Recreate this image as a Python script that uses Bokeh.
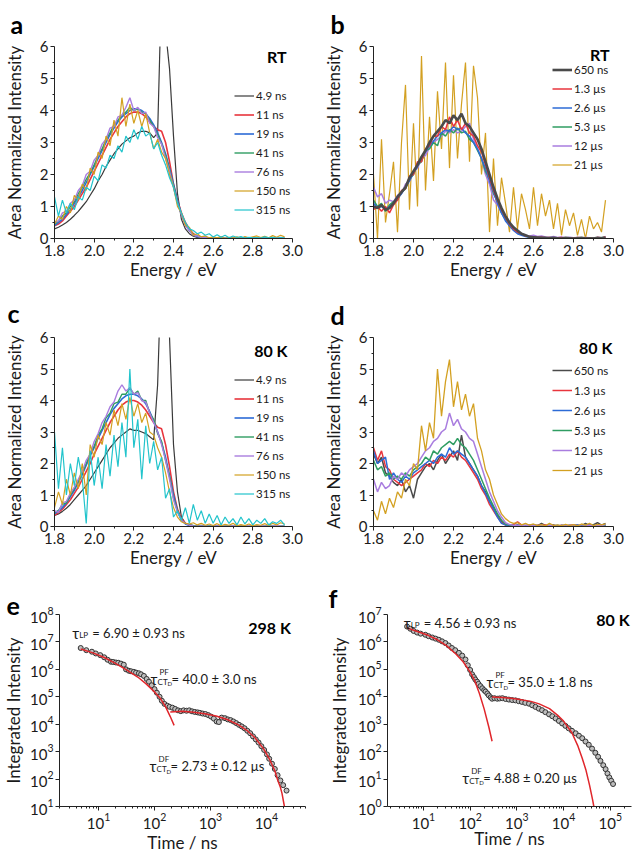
from bokeh.plotting import figure
from bokeh.models import (Range1d, FixedTicker, LogTicker, Legend, LegendItem, Label,
                          PrintfTickFormatter)
from bokeh.layouts import column, row
from bokeh.embed import file_html
from bokeh.resources import INLINE

FONT = "Lato"
TXT = "#1a1a1a"
AX = "#222222"

C_BLACK = "#3a3a3a"
C_GRAY = "#4a4a4a"
C_RED = "#e8353d"
C_BLUE = "#2c6bd6"
C_GREEN = "#2f9d62"
C_PURPLE = "#a97ddf"
C_GOLD = "#d3a021"
C_CYAN = "#22c4cc"
C_FIT = "#e0262b"

# ---------------- energy grid (eV) ----------------
ENERGY = [1.80, 1.82, 1.84, 1.86, 1.88, 1.90, 1.92, 1.94, 1.96, 1.98,
          2.00, 2.02, 2.04, 2.06, 2.08, 2.10, 2.12, 2.14, 2.16, 2.18,
          2.20, 2.22, 2.24, 2.26, 2.28, 2.30, 2.32, 2.34, 2.36, 2.38,
          2.40, 2.42, 2.44, 2.46, 2.48, 2.50, 2.52, 2.54, 2.56, 2.58,
          2.60, 2.62, 2.64, 2.66, 2.68, 2.70, 2.72, 2.74, 2.76, 2.78,
          2.80, 2.82, 2.84, 2.86, 2.88, 2.90, 2.92, 2.94, 2.96]

E_TICKS = [1.8, 2.0, 2.2, 2.4, 2.6, 2.8, 3.0]
E_MINOR = [1.9, 2.1, 2.3, 2.5, 2.7, 2.9]
Y_TICKS = [0, 1, 2, 3, 4, 5, 6]
Y_MINOR = [0.5, 1.5, 2.5, 3.5, 4.5, 5.5]

# ---------------- panel a (RT, ns) ----------------
A_NAMES = ["4.9 ns", "11 ns", "19 ns", "41 ns", "76 ns", "150 ns", "315 ns"]
A_4_9NS = [0.30, 0.35, 0.42, 0.50, 0.60, 0.72, 0.85, 1.00, 1.15, 1.35,
           1.55, 1.80, 2.00, 2.25, 2.45, 2.65, 2.80, 2.95, 3.05, 3.15,
           3.20, 3.30, 3.35, 3.35, 3.30, 3.15, 3.30, 8.00, 6.50, 5.30,
           3.20, 1.40, 0.60, 0.30, 0.15, 0.07, 0.03, 0.01, 0.00, 0.00,
           0.00, 0.00, 0.00, 0.00, 0.00, 0.00, 0.00, 0.00, 0.00, 0.00,
           0.00, 0.00, 0.00, 0.00, 0.00, 0.00, 0.00, 0.00, 0.00]
A_11NS = [0.40, 0.45, 0.55, 0.70, 0.85, 1.00, 1.20, 1.40, 1.60, 1.85,
          2.10, 2.35, 2.60, 2.85, 3.10, 3.30, 3.50, 3.65, 3.80, 3.90,
          3.95, 3.95, 3.90, 3.80, 3.65, 3.50, 3.40, 3.35, 3.00, 2.40,
          1.70, 1.20, 0.80, 0.50, 0.30, 0.15, 0.08, 0.04, 0.02, 0.01,
          0.00, 0.00, 0.00, 0.00, 0.00, 0.00, 0.00, 0.00, 0.00, 0.00,
          0.00, 0.00, 0.00, 0.00, 0.00, 0.00, 0.00, 0.00, 0.00]
A_19NS = [0.40, 0.50, 0.60, 0.75, 0.90, 1.10, 1.30, 1.50, 1.75, 2.00,
          2.25, 2.50, 2.75, 3.00, 3.25, 3.45, 3.65, 3.80, 3.90, 4.00,
          4.05, 4.05, 4.00, 3.90, 3.75, 3.55, 3.30, 3.00, 2.65, 2.20,
          1.70, 1.20, 0.75, 0.45, 0.25, 0.12, 0.06, 0.03, 0.01, 0.00,
          0.00, 0.00, 0.00, 0.00, 0.00, 0.00, 0.00, 0.00, 0.00, 0.00,
          0.00, 0.00, 0.00, 0.00, 0.00, 0.00, 0.00, 0.00, 0.00]
A_41NS = [0.45, 0.55, 0.70, 0.80, 1.00, 1.15, 1.40, 1.60, 1.85, 2.05,
          2.30, 2.60, 2.80, 3.10, 3.30, 3.55, 3.70, 3.85, 3.95, 4.10,
          4.00, 4.05, 3.95, 3.90, 3.70, 3.50, 3.25, 2.95, 2.60, 2.15,
          1.65, 1.15, 0.75, 0.45, 0.25, 0.12, 0.08, 0.04, 0.03, 0.02,
          0.02, 0.01, 0.02, 0.00, 0.01, 0.02, 0.00, 0.01, 0.00, 0.01,
          0.00, 0.01, 0.02, 0.00, 0.01, 0.00, 0.01, 0.02, 0.01]
A_76NS = [0.50, 0.55, 0.80, 0.85, 1.10, 1.20, 1.50, 1.65, 2.00, 2.10,
          2.45, 2.60, 2.95, 3.10, 3.45, 3.50, 3.80, 3.85, 4.10, 4.40,
          4.00, 4.10, 3.90, 3.95, 3.60, 3.50, 3.15, 2.95, 2.50, 2.10,
          1.60, 1.10, 0.75, 0.40, 0.25, 0.10, 0.08, 0.03, 0.04, 0.02,
          0.03, 0.01, 0.02, 0.00, 0.02, 0.01, 0.03, 0.00, 0.01, 0.02,
          0.00, 0.02, 0.01, 0.03, 0.00, 0.02, 0.01, 0.03, 0.02]
A_150NS = [0.45, 0.70, 0.60, 1.00, 0.80, 1.35, 1.20, 1.70, 1.50, 2.20,
           2.00, 2.70, 2.50, 3.20, 2.90, 3.70, 3.20, 4.40, 3.50, 4.20,
           3.60, 4.00, 3.50, 3.90, 3.30, 2.80, 3.10, 2.70, 2.50, 2.00,
           1.60, 1.00, 0.80, 0.40, 0.35, 0.10, 0.15, 0.05, 0.08, 0.02,
           0.05, 0.02, 0.06, 0.00, 0.04, 0.01, 0.05, 0.00, 0.06, 0.02,
           0.05, 0.08, 0.03, 0.07, 0.02, 0.09, 0.04, 0.10, 0.05]
A_315NS = [1.30, 0.70, 1.20, 0.80, 1.10, 0.90, 1.30, 1.20, 1.60, 1.50,
           1.95, 1.80, 2.30, 2.20, 2.60, 2.50, 2.90, 2.70, 3.20, 3.00,
           3.40, 3.10, 3.50, 3.20, 3.30, 2.80, 3.00, 2.60, 2.30, 1.90,
           1.60, 1.10, 0.80, 0.50, 0.30, 0.25, 0.15, 0.20, 0.10, 0.15,
           0.05, 0.12, 0.04, 0.10, 0.02, 0.08, 0.03, 0.06, 0.01, 0.04,
           0.02, 0.03, 0.01, 0.05, 0.02, 0.04, 0.01, 0.03, 0.02]

# ---------------- panel b (RT, long delays) ----------------
B_NAMES = ["650 ns", "1.3 µs", "2.6 µs", "5.3 µs", "12 µs", "21 µs"]
B_650NS = [1.00, 0.95, 1.05, 0.90, 0.95, 1.10, 1.30, 1.45, 1.60, 1.90,
           2.10, 2.30, 2.55, 2.75, 3.00, 3.20, 3.35, 3.50, 3.70, 3.60,
           3.85, 3.70, 3.90, 3.60, 3.50, 3.30, 3.10, 2.80, 2.40, 2.00,
           1.60, 1.25, 0.95, 0.70, 0.50, 0.35, 0.25, 0.15, 0.10, 0.05,
           0.04, 0.03, 0.02, 0.02, 0.01, 0.02, 0.01, 0.00, 0.02, 0.01,
           0.00, 0.01, 0.02, 0.00, 0.01, 0.00, 0.02, 0.01, 0.02]
B_1_3US = [0.90, 1.00, 0.85, 1.00, 0.80, 1.05, 1.20, 1.50, 1.55, 1.95,
           2.00, 2.40, 2.40, 2.80, 2.90, 3.20, 3.20, 3.50, 3.40, 3.80,
           3.50, 3.70, 3.40, 3.60, 3.30, 3.20, 2.90, 2.70, 2.30, 1.90,
           1.50, 1.20, 0.90, 0.65, 0.45, 0.30, 0.20, 0.15, 0.08, 0.06,
           0.05, 0.03, 0.04, 0.02, 0.03, 0.01, 0.02, 0.03, 0.01, 0.02,
           0.01, 0.03, 0.02, 0.01, 0.02, 0.00, 0.03, 0.02, 0.05]
B_2_6US = [1.10, 0.95, 1.00, 0.90, 1.00, 1.10, 1.25, 1.40, 1.60, 1.80,
           2.05, 2.25, 2.50, 2.70, 2.90, 3.05, 3.20, 3.30, 3.40, 3.35,
           3.50, 3.40, 3.45, 3.30, 3.20, 3.00, 2.80, 2.50, 2.20, 1.80,
           1.45, 1.10, 0.80, 0.55, 0.40, 0.25, 0.15, 0.10, 0.06, 0.04,
           0.03, 0.02, 0.03, 0.01, 0.02, 0.01, 0.02, 0.00, 0.01, 0.02,
           0.01, 0.00, 0.02, 0.01, 0.00, 0.01, 0.02, 0.01, 0.03]
B_5_3US = [1.20, 1.00, 1.10, 0.85, 1.05, 1.15, 1.20, 1.45, 1.55, 1.85,
           2.00, 2.30, 2.40, 2.75, 2.80, 3.00, 2.90, 3.30, 3.20, 3.40,
           3.30, 3.45, 3.30, 3.35, 3.10, 3.00, 2.75, 2.50, 2.10, 1.85,
           1.40, 1.15, 0.80, 0.60, 0.40, 0.30, 0.18, 0.12, 0.08, 0.05,
           0.04, 0.02, 0.03, 0.01, 0.03, 0.02, 0.01, 0.02, 0.00, 0.02,
           0.01, 0.03, 0.00, 0.02, 0.01, 0.02, 0.00, 0.03, 0.04]
B_12US = [1.60, 1.30, 1.40, 1.10, 1.20, 1.15, 1.35, 1.40, 1.70, 1.80,
          2.10, 2.20, 2.50, 2.60, 2.85, 3.00, 3.10, 3.20, 3.35, 3.30,
          3.40, 3.30, 3.35, 3.50, 3.60, 3.10, 2.80, 2.50, 2.00, 1.70,
          1.20, 1.05, 0.80, 0.60, 0.45, 0.30, 0.20, 0.15, 0.10, 0.08,
          0.10, 0.06, 0.08, 0.05, 0.04, 0.06, 0.03, 0.05, 0.02, 0.04,
          0.02, 0.03, 0.01, 0.03, 0.02, 0.01, 0.03, 0.02, 0.06]
B_21US = [2.00, 0.00, 3.10, 0.50, 1.40, 2.40, 0.20, 3.00, 4.80, 0.90,
          3.60, 1.00, 5.70, 1.50, 3.80, 1.80, 4.60, 2.80, 5.50, 2.20,
          5.10, 2.50, 4.20, 5.50, 2.40, 5.40, 4.40, 2.00, 3.30, 0.20,
          2.50, 0.40, 1.90, 1.10, 0.20, 1.60, 0.30, 1.40, 0.90, 0.30,
          1.60, 0.40, 1.40, 0.70, 1.20, 0.30, 1.10, 0.10, 0.90, 0.40,
          0.80, 0.10, 0.60, 0.00, 0.70, 0.30, 0.50, 0.20, 1.20]

# ---------------- panel c (80 K, ns) ----------------
C_4_9NS = [0.35, 0.40, 0.48, 0.58, 0.70, 0.85, 1.00, 1.15, 1.30, 1.50,
           1.70, 1.90, 2.10, 2.30, 2.50, 2.65, 2.80, 2.90, 3.00, 3.10,
           3.05, 3.05, 3.00, 2.95, 2.85, 2.75, 4.50, 8.50, 8.50, 6.00,
           2.60, 1.10, 0.30, 0.10, 0.05, 0.02, 0.01, 0.00, 0.00, 0.00,
           0.00, 0.00, 0.00, 0.00, 0.00, 0.00, 0.00, 0.00, 0.00, 0.00,
           0.00, 0.00, 0.00, 0.00, 0.00, 0.00, 0.00, 0.00, 0.00]
C_11NS = [0.35, 0.45, 0.55, 0.70, 0.85, 1.05, 1.25, 1.50, 1.75, 2.00,
          2.30, 2.55, 2.80, 3.05, 3.30, 3.50, 3.70, 3.85, 3.95, 4.00,
          4.00, 3.95, 3.85, 3.70, 3.50, 3.30, 3.15, 3.10, 2.60, 1.90,
          1.10, 0.55, 0.25, 0.10, 0.05, 0.02, 0.00, 0.00, 0.00, 0.00,
          0.00, 0.00, 0.00, 0.00, 0.00, 0.00, 0.00, 0.00, 0.00, 0.00,
          0.00, 0.00, 0.00, 0.00, 0.00, 0.00, 0.00, 0.00, 0.00]
C_19NS = [0.40, 0.50, 0.60, 0.75, 0.95, 1.15, 1.40, 1.65, 1.95, 2.25,
          2.50, 2.80, 3.05, 3.30, 3.55, 3.75, 3.90, 4.05, 4.15, 4.20,
          4.20, 4.15, 4.05, 3.90, 3.65, 3.35, 3.00, 2.65, 2.20, 1.60,
          1.00, 0.50, 0.20, 0.08, 0.03, 0.01, 0.00, 0.00, 0.00, 0.00,
          0.00, 0.00, 0.00, 0.00, 0.00, 0.00, 0.00, 0.00, 0.00, 0.00,
          0.00, 0.00, 0.00, 0.00, 0.00, 0.00, 0.00, 0.00, 0.00]
C_41NS = [0.45, 0.50, 0.70, 0.75, 1.00, 1.20, 1.45, 1.70, 2.00, 2.30,
          2.55, 2.90, 3.10, 3.45, 3.60, 3.90, 3.95, 4.20, 4.20, 4.40,
          4.20, 4.30, 4.00, 4.00, 3.60, 3.40, 2.95, 2.70, 2.10, 1.60,
          0.90, 0.50, 0.20, 0.10, 0.05, 0.03, 0.02, 0.03, 0.01, 0.02,
          0.01, 0.02, 0.00, 0.01, 0.02, 0.01, 0.00, 0.02, 0.01, 0.00,
          0.01, 0.02, 0.00, 0.01, 0.02, 0.01, 0.00, 0.01, 0.02]
C_76NS = [0.50, 0.45, 0.75, 0.80, 1.05, 1.25, 1.50, 1.75, 2.10, 2.30,
          2.70, 2.95, 3.30, 3.50, 3.80, 3.95, 4.30, 4.50, 4.30, 4.40,
          4.20, 4.25, 4.00, 3.95, 3.60, 3.30, 3.00, 2.60, 2.10, 1.50,
          0.85, 0.45, 0.20, 0.10, 0.04, 0.02, 0.01, 0.02, 0.01, 0.00,
          0.01, 0.02, 0.01, 0.00, 0.01, 0.02, 0.00, 0.01, 0.02, 0.01,
          0.00, 0.01, 0.02, 0.01, 0.00, 0.01, 0.02, 0.01, 0.00]
C_150NS = [0.60, 1.10, 0.70, 1.50, 1.00, 1.70, 1.20, 2.00, 1.00, 2.60,
           2.20, 2.90, 2.60, 3.30, 2.90, 3.70, 3.20, 3.90, 3.40, 4.10,
           3.50, 3.90, 3.30, 3.60, 3.00, 2.90, 2.50, 2.20, 1.70, 1.10,
           0.60, 0.30, 0.15, 0.10, 0.08, 0.12, 0.05, 0.10, 0.04, 0.08,
           0.03, 0.09, 0.02, 0.07, 0.04, 0.10, 0.02, 0.06, 0.03, 0.08,
           0.02, 0.06, 0.04, 0.09, 0.03, 0.10, 0.05, 0.12, 0.08]
C_315NS = [3.00, 1.20, 2.50, 1.00, 2.00, 1.30, 2.20, 1.50, 0.10, 2.40,
           1.30, 2.20, 1.20, 2.60, 1.60, 2.90, 1.90, 3.30, 2.20, 5.00,
           2.50, 3.40, 1.50, 3.20, 2.00, 2.70, 1.80, 2.20, 0.90, 1.20,
           0.30, 0.50, 0.20, 0.60, 0.10, 0.70, 0.20, 0.50, 0.10, 0.40,
           0.10, 0.35, 0.05, 0.30, 0.10, 0.25, 0.05, 0.30, 0.08, 0.25,
           0.05, 0.20, 0.10, 0.25, 0.05, 0.15, 0.10, 0.20, 0.05]

# ---------------- panel d (80 K, long delays) ----------------
D_650NS = [2.30, 2.00, 2.20, 1.70, 1.60, 1.40, 1.30, 1.50, 1.10, 1.30,
           0.90, 1.50, 1.70, 1.90, 2.00, 1.80, 2.10, 2.30, 2.00, 2.20,
           2.40, 2.10, 2.90, 2.20, 2.00, 1.80, 1.60, 1.30, 1.10, 0.80,
           0.60, 0.35, 0.15, 0.05, 0.03, 0.02, 0.05, 0.03, 0.02, 0.04,
           0.05, 0.02, 0.10, 0.03, 0.02, 0.05, 0.01, 0.03, 0.02, 0.04,
           0.03, 0.05, 0.02, 0.10, 0.03, 0.06, 0.12, 0.04, 0.10]
D_1_3US = [2.50, 2.10, 2.40, 1.90, 1.80, 1.50, 1.40, 1.30, 1.40, 1.50,
           1.60, 1.70, 1.80, 2.00, 1.90, 2.10, 2.00, 2.20, 2.10, 2.30,
           2.20, 2.40, 2.20, 2.10, 1.90, 1.70, 1.50, 1.20, 1.00, 0.70,
           0.50, 0.30, 0.12, 0.05, 0.04, 0.06, 0.15, 0.05, 0.03, 0.05,
           0.02, 0.04, 0.03, 0.05, 0.02, 0.03, 0.01, 0.04, 0.02, 0.03,
           0.05, 0.02, 0.04, 0.03, 0.06, 0.02, 0.05, 0.03, 0.04]
D_2_6US = [2.40, 2.00, 2.10, 2.20, 1.50, 1.70, 1.50, 1.40, 1.60, 1.50,
           1.70, 1.80, 1.90, 2.00, 2.10, 2.00, 2.20, 2.30, 2.20, 2.50,
           2.30, 2.40, 2.30, 2.20, 2.00, 1.80, 1.60, 1.30, 1.05, 0.80,
           0.55, 0.30, 0.10, 0.05, 0.03, 0.02, 0.04, 0.02, 0.03, 0.02,
           0.03, 0.02, 0.04, 0.01, 0.03, 0.02, 0.04, 0.02, 0.03, 0.01,
           0.02, 0.04, 0.02, 0.03, 0.05, 0.02, 0.04, 0.03, 0.05]
D_5_3US = [2.10, 1.80, 1.90, 1.60, 1.70, 1.50, 1.60, 1.50, 1.70, 1.60,
           1.80, 1.90, 2.00, 2.20, 2.10, 2.40, 2.30, 2.50, 2.60, 2.70,
           2.60, 2.80, 2.60, 2.50, 2.30, 2.10, 1.80, 1.50, 1.20, 0.90,
           0.65, 0.40, 0.20, 0.08, 0.05, 0.03, 0.02, 0.04, 0.02, 0.03,
           0.02, 0.03, 0.01, 0.02, 0.04, 0.02, 0.01, 0.03, 0.02, 0.01,
           0.03, 0.02, 0.01, 0.04, 0.02, 0.03, 0.01, 0.02, 0.04]
D_12US = [1.50, 1.10, 1.40, 1.20, 1.30, 1.60, 1.50, 1.70, 1.60, 1.80,
          1.90, 2.00, 2.20, 2.40, 2.50, 2.70, 2.80, 3.00, 3.10, 3.60,
          3.20, 3.40, 3.10, 3.00, 2.80, 2.70, 2.30, 1.90, 1.50, 1.10,
          0.80, 0.50, 0.30, 0.12, 0.06, 0.04, 0.03, 0.05, 0.02, 0.04,
          0.03, 0.02, 0.04, 0.01, 0.03, 0.02, 0.01, 0.03, 0.02, 0.04,
          0.02, 0.03, 0.01, 0.02, 0.04, 0.02, 0.05, 0.03, 0.06]
D_21US = [0.50, 0.20, 0.80, 0.40, 0.90, 0.60, 1.10, 0.90, 1.50, 1.30,
          2.00, 1.80, 3.20, 2.40, 3.30, 2.80, 5.00, 3.50, 4.60, 5.30,
          3.80, 4.60, 3.70, 4.20, 3.50, 3.90, 2.80, 2.40, 1.80, 1.50,
          1.00, 0.70, 0.40, 0.25, 0.15, 0.10, 0.12, 0.05, 0.10, 0.04,
          0.08, 0.03, 0.06, 0.02, 0.10, 0.03, 0.05, 0.02, 0.07, 0.03,
          0.06, 0.02, 0.08, 0.04, 0.10, 0.03, 0.07, 0.05, 0.08]

# ---------------- panel e (298 K decay) ----------------
E_T = [4.79, 6.03, 7.59, 8.91, 10.7, 12.6, 14.5, 16.6, 18.2, 20.4,
       22.4, 25.1, 28.2, 30.9, 34.7, 38.0, 42.7, 46.8, 52.5, 57.5,
       64.6, 72.4, 79.4, 89.1, 100, 110, 123, 135, 151, 170,
       186, 209, 234, 263, 295, 331, 372, 417, 468, 525,
       589, 646, 724, 813, 912, 1023, 1148, 1288, 1413, 1585,
       1820, 2042, 2291, 2570, 2884, 3236, 3631, 4074, 4571, 5129,
       5754, 6457, 7244, 8128, 9120, 10230, 11220, 12590, 14130, 15850,
       17780, 19950, 22910]
E_I = [6.0e6, 5.0e6, 4.4e6, 3.8e6, 3.3e6, 2.75e6, 2.24e6, 1.9e6, 1.86e6, 1.78e6,
       1.74e6, 1.62e6, 1.48e6, 1.0e6, 8.9e5, 8.5e5, 8.1e5, 7.6e5, 7.2e5, 6.6e5,
       5.75e5, 4.47e5, 3.55e5, 2.63e5, 1.9e5, 1.41e5, 1.0e5, 7.2e4, 5.5e4, 4.7e4,
       4.3e4, 4.0e4, 3.6e4, 3.2e4, 3.0e4, 3.2e4, 3.1e4, 3.2e4, 2.95e4, 2.8e4,
       2.7e4, 2.6e4, 2.45e4, 2.35e4, 2.15e4, 1.9e4, 1.6e4, 1.26e4, 1.2e4, 1.74e4,
       1.66e4, 1.5e4, 1.41e4, 1.26e4, 1.1e4, 9.5e3, 8.3e3, 7.1e3, 5.75e3, 4.7e3,
       3.6e3, 2.8e3, 2.15e3, 1.58e3, 1.15e3, 794, 550, 363, 234, 138,
       89, 60, 38]
E_FIT1_T = [4.79, 7.94, 12.6, 20.0, 31.6, 50.1, 70.8, 100, 126, 158, 191, 224]
E_FIT1_I = [5.5e6, 4.0e6, 2.7e6, 1.66e6, 9.5e5, 5.25e5, 2.95e5, 1.51e5, 8.9e4, 4.3e4, 1.9e4, 9.1e3]
E_FIT2_T = [191, 316, 501, 794, 1259, 1995, 3162, 4467, 6310, 8913, 11220, 14125, 16000, 17783, 19000, 21000]
E_FIT2_I = [2.8e4, 2.95e4, 2.75e4, 2.4e4, 2.0e4, 1.48e4, 9.5e3, 6.0e3, 3.16e3, 1.26e3, 562, 200, 88, 50, 30, 10]
E_YTICKS = [1e1, 1e2, 1e3, 1e4, 1e5, 1e6, 1e7, 1e8]

# ---------------- panel f (80 K decay) ----------------
F_T = [4.47, 5.25, 6.17, 7.33, 8.71, 11.0, 12.9, 15.5, 18.2, 21.4,
       25.1, 29.5, 34.7, 40.7, 47.9, 57.5, 67.6, 79.4, 89.1, 100,
       110, 120, 129, 141, 151, 166, 182, 200, 214, 234,
       251, 275, 295, 331, 380, 427, 490, 575, 676, 794,
       933, 1096, 1288, 1514, 1820, 2138, 2512, 2951, 3467, 4074,
       4898, 5754, 6761, 7943, 9333, 10960, 12880, 15140, 18200, 21380,
       25120, 29510, 34670, 40740, 47860, 54950, 61660, 70790, 79430, 87100,
       95500, 104700, 114800]
F_I = [3.63e6, 3.02e6, 2.51e6, 2.19e6, 2.0e6, 1.82e6, 1.62e6, 1.45e6, 1.32e6, 1.2e6,
       1.05e6, 9.1e5, 7.4e5, 6.0e5, 5.0e5, 4.0e5, 3.16e5, 2.29e5, 1.41e5, 9.5e4,
       6.6e4, 5.25e4, 4.27e4, 3.55e4, 2.95e4, 2.45e4, 2.04e4, 1.74e4, 1.55e4, 1.32e4,
       1.12e4, 9.5e3, 8.5e3, 8.9e3, 8.5e3, 8.7e3, 8.9e3, 8.3e3, 7.9e3, 7.6e3,
       7.4e3, 6.9e3, 6.5e3, 6.0e3, 5.6e3, 4.9e3, 4.27e3, 3.7e3, 3.24e3, 2.75e3,
       2.29e3, 1.95e3, 1.62e3, 1.32e3, 1.07e3, 871, 708, 575, 468, 380,
       309, 234, 178, 129, 91, 65, 46, 32, 23, 16,
       11.5, 8.7, 6.6]
F_FIT1_T = [4.5, 7.94, 12.6, 20.0, 31.6, 50.1, 70.8, 100, 126, 158, 200, 251, 295]
F_FIT1_I = [3.2e6, 2.3e6, 1.74e6, 1.2e6, 7.2e5, 3.55e5, 1.9e5, 7.9e4, 3.8e4, 1.32e4, 3.55e3, 794, 240]
F_FIT2_T = [295, 500, 1000, 2000, 3000, 5000, 7500, 10000, 15000, 20000, 25000, 30000, 36000, 42000, 44500]
F_FIT2_I = [9.8e3, 9.4e3, 8.3e3, 6.8e3, 5.5e3, 3.7e3, 2.1e3, 1.3e3, 5.0e2, 1.7e2, 59, 22, 6, 1.7, 1.0]
F_YTICKS = [1e0, 1e1, 1e2, 1e3, 1e4, 1e5, 1e6, 1e7]


def style_axes(p, xlabel, ylabel, ylab_standoff, xlab_standoff=0):
    for ax in p.axis:
        ax.axis_line_color = AX
        ax.axis_line_width = 1
        ax.major_tick_line_color = AX
        ax.minor_tick_line_color = AX
        ax.major_tick_in = 0
        ax.major_tick_out = 4
        ax.minor_tick_in = 0
        ax.minor_tick_out = 2
        ax.major_label_text_font = FONT
        ax.major_label_text_font_size = "15px"
        ax.major_label_text_color = TXT
        ax.major_label_standoff = 2
        ax.axis_label_text_font = FONT
        ax.axis_label_text_font_size = "17px"
        ax.axis_label_text_font_style = "normal"
        ax.axis_label_text_color = TXT
    p.xaxis.axis_label = xlabel
    p.yaxis.axis_label = ylabel
    p.xaxis.axis_label_standoff = xlab_standoff
    p.yaxis.axis_label_standoff = ylab_standoff


def base_fig(width, height, bl, br, bt, bb, **kw):
    p = figure(width=width, height=height, output_backend="svg", toolbar_location=None,
               min_border_left=bl, min_border_right=br, min_border_top=bt, min_border_bottom=bb,
               background_fill_color="white", border_fill_color="white", **kw)
    p.outline_line_color = None
    p.xgrid.visible = False
    p.ygrid.visible = False
    return p


def letter(p, text, offset, standoff, valign):
    p.title.text = text
    p.title.align = "left"
    p.title.vertical_align = valign
    p.title.offset = offset
    p.title.standoff = standoff
    p.title.text_font = FONT
    p.title.text_font_size = "25px"
    p.title.text_font_style = "bold"
    p.title.text_color = "#000000"


def tag(p, text, x, y):
    p.add_layout(Label(x=x, y=y, text=text, text_font=FONT, text_font_size="16px",
                       text_font_style="bold", text_color="#000000",
                       text_align="right", text_baseline="middle"))


def spectral(width, height, bl, br, bt, bb, ylab_standoff):
    p = base_fig(width, height, bl, br, bt, bb,
                 x_range=Range1d(1.8, 3.0), y_range=Range1d(0, 6))
    p.xaxis.ticker = FixedTicker(ticks=E_TICKS, minor_ticks=E_MINOR)
    p.yaxis.ticker = FixedTicker(ticks=Y_TICKS, minor_ticks=Y_MINOR)
    p.xaxis.formatter = PrintfTickFormatter(format="%.1f")
    style_axes(p, "Energy / eV", "Area Normalized Intensity", ylab_standoff)
    return p


def add_series(p, names, arrays, colors, widths, order, leg_x, leg_y, row_h):
    rends = {}
    for i in order:
        rends[i] = p.line(ENERGY, arrays[i], line_color=colors[i], line_width=widths[i])
    items = [LegendItem(label=names[i], renderers=[rends[i]]) for i in range(len(names))]
    leg = Legend(items=items, location=(leg_x, leg_y), border_line_color=None,
                 background_fill_alpha=0, padding=0, margin=0, spacing=0,
                 glyph_width=20, glyph_height=row_h, label_height=row_h, label_width=40,
                 label_standoff=2, label_text_font=FONT, label_text_font_size="11.5px",
                 label_text_color=TXT)
    p.add_layout(leg)


def tau(p, x, y, sup, sub, rest):
    base = dict(x=x, y=y, text_font=FONT, text_color=TXT, text_baseline="alphabetic",
                text_align="left")
    p.add_layout(Label(text="τ", text_font_size="15px", **base))
    if sup:
        p.add_layout(Label(text=sup, text_font_size="8px", x_offset=9, y_offset=7, **base))
        p.add_layout(Label(text=sub, text_font_size="8px", x_offset=7, y_offset=-3, **base))
        p.add_layout(Label(text="D", text_font_size="6px", x_offset=17, y_offset=-5, **base))
        p.add_layout(Label(text=rest, text_font_size="13px", x_offset=21, **base))
    else:
        p.add_layout(Label(text=sub, text_font_size="8px", x_offset=7, y_offset=-2, **base))
        p.add_layout(Label(text=rest, text_font_size="13px", x_offset=20, **base))


def decay(width, height, bl, br, bt, bb, xr, yr, yticks, ylab_standoff, xlab_standoff):
    p = base_fig(width, height, bl, br, bt, bb, x_axis_type="log", y_axis_type="log",
                 x_range=Range1d(*xr), y_range=Range1d(*yr))
    p.xaxis.ticker = LogTicker(desired_num_ticks=5, num_minor_ticks=10)
    p.yaxis.ticker = FixedTicker(ticks=yticks)
    style_axes(p, "Time / ns", "Integrated Intensity", ylab_standoff, xlab_standoff)
    return p


# ---------------- build panels ----------------
A_COLORS = [C_BLACK, C_RED, C_BLUE, C_GREEN, C_PURPLE, C_GOLD, C_CYAN]
A_WIDTHS = [1.2, 1.6, 1.6, 1.4, 1.4, 1.2, 1.2]
B_COLORS = [C_GRAY, C_RED, C_BLUE, C_GREEN, C_PURPLE, C_GOLD]
B_WIDTHS = [2.6, 1.5, 1.5, 1.5, 1.5, 1.2]
D_WIDTHS = [1.5, 1.5, 1.5, 1.5, 1.5, 1.3]

pa = spectral(310, 288, 52, 18, 45, 50, 12)
add_series(pa, A_NAMES, [A_4_9NS, A_11NS, A_19NS, A_41NS, A_76NS, A_150NS, A_315NS],
           A_COLORS, A_WIDTHS, range(7), 180, 19, 19)
tag(pa, "RT", 2.97, 5.68)
letter(pa, "a", -44, 12, "top")

pb = spectral(322, 288, 63, 19, 46, 50, 12)
add_series(pb, B_NAMES, [B_650NS, B_1_3US, B_2_6US, B_5_3US, B_12US, B_21US],
           B_COLORS, B_WIDTHS, [5, 4, 3, 2, 1, 0], 179, 64, 19)
tag(pb, "RT", 2.98, 5.75)
letter(pb, "b", -43, 12, "top")

pc = spectral(310, 294, 52, 18, 49, 50, 12)
add_series(pc, A_NAMES, [C_4_9NS, C_11NS, C_19NS, C_41NS, C_76NS, C_150NS, C_315NS],
           A_COLORS, A_WIDTHS, range(7), 180, 23, 19)
tag(pc, "80 K", 2.975, 5.6)
letter(pc, "c", -47, 16, "top")

pd = spectral(322, 294, 63, 19, 44, 56, 12)
add_series(pd, B_NAMES, [D_650NS, D_1_3US, D_2_6US, D_5_3US, D_12US, D_21US],
           B_COLORS, D_WIDTHS, range(6), 179, 46, 20)
tag(pd, "80 K", 2.995, 5.67)
letter(pd, "d", -43, 11, "top")

pe = decay(310, 273, 55, 5, 30, 44, (2, 5e4), (10, 1e8), E_YTICKS, 3, 0)
pe.scatter(E_T, E_I, marker="circle", size=5, line_color="#333333", fill_color="#bdbdbd", line_width=1)
pe.line(E_FIT1_T, E_FIT1_I, line_color=C_FIT, line_width=1.5)
pe.line(E_FIT2_T, E_FIT2_I, line_color=C_FIT, line_width=1.5)
tau(pe, 3.38, 2.05e7, None, "LP", "= 6.90 ± 0.93 ns")
tau(pe, 84.9, 4.62e5, "PF", "CT", "= 40.0 ± 3.0 ns")
tau(pe, 81.7, 296, "DF", "CT", "= 2.73 ± 0.12 µs")
tag(pe, "298 K", 2.75e4, 3.5e7)
letter(pe, "e", -53, 0, "bottom")

pf = decay(322, 273, 77, 1, 29, 49, (1.7, 2.85e5), (1, 1e7), F_YTICKS, 5, -4)
pf.scatter(F_T, F_I, marker="circle", size=5, line_color="#333333", fill_color="#bdbdbd", line_width=1)
pf.line(F_FIT1_T, F_FIT1_I, line_color=C_FIT, line_width=1.5)
pf.line(F_FIT2_T, F_FIT2_I, line_color=C_FIT, line_width=1.5)
tau(pf, 3.78, 4.8e6, None, "LP", "= 4.56 ± 0.93 ns")
tau(pf, 223, 3.37e4, "PF", "CT", "= 35.0 ± 1.8 ns")
tau(pf, 67.4, 11.0, "DF", "CT", "= 4.88 ± 0.20 µs")
tag(pf, "80 K", 2.6e5, 6.6e6)
letter(pf, "f", -59, 0, "top")

layout = column(row(pa, pb), row(pc, pd), row(pe, pf))
open("out.html", "w").write(file_html(layout, INLINE))
